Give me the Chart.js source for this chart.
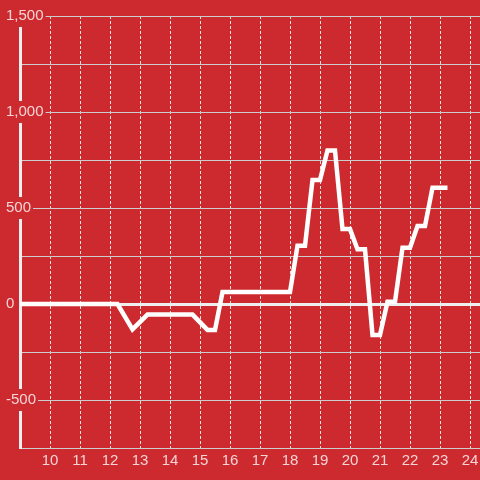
<!DOCTYPE html>
<html>
<head>
<meta charset="utf-8">
<script src="https://cdn.jsdelivr.net/npm/chart.js@4/dist/chart.umd.min.js"></script>
<style>
body{margin:0;background:#cc2a2f}
#wrap{width:480px;height:480px}
</style>
</head>
<body>
<div id="wrap"><canvas id="chart" width="480" height="480"></canvas></div>
<script>
let hours=[9,12.25,12.75,13.25,14.75,15.25,15.5,15.75,18,18.25,18.5,18.75,19,19.25,19.5,19.75,20,20.25,20.5,20.75,21,21.25,21.5,21.75,22,22.25,22.5,22.75,23.25];
let values=[0,0,-132,-55,-55,-135,-135,62,62,304,304,646,646,800,800,390,390,285,285,-161,-161,12,12,293,293,406,406,606,606];
let hourTicks=[10,11,12,13,14,15,16,17,18,19,20,21,22,23,24];

let bg="#cc2a2f";
let txt="rgba(255,255,255,0.8)";
let font={family:"'Liberation Sans', Arial, sans-serif",size:15};

let chart=new Chart(document.getElementById("chart").getContext("2d"),{
type:'line',
data:{datasets:[{
data:hours.map((h,i)=>({x:h,y:values[i]})),
borderColor:"#ffffff",
borderWidth:4.5,
pointRadius:0,
tension:0,
fill:false
}]},
options:{
responsive:false,
devicePixelRatio:1,
animation:false,
layout:{padding:{top:16,left:0,right:0,bottom:0}},
plugins:{legend:{display:false},tooltip:{enabled:false}},
scales:{
x:{
type:'linear',
min:9,
max:24+1/3,
afterBuildTicks:s=>{s.ticks=hourTicks.map(v=>({value:v}));},
afterFit:s=>{s.height=32;s.paddingLeft=0;s.paddingRight=0;},
grid:{color:"rgba(255,255,255,0.85)",lineWidth:1,drawTicks:false},
border:{display:true,color:"#cccccc",width:1,dash:[3,2]},
ticks:{color:txt,font:font,padding:4,maxRotation:0,autoSkip:false}
},
y:{
min:-750,
max:1500,
afterFit:s=>{s.width=20;s.paddingTop=0;s.paddingBottom=0;},
grid:{
color:c=>c.tick&&c.tick.value===0?"#eeeeee":"#cccccc",
lineWidth:c=>c.tick&&c.tick.value===0?3:1,
drawTicks:false
},
border:{display:true,color:"#eeeeee",width:3},
ticks:{
stepSize:250,
color:txt,
font:font,
mirror:true,
padding:-14,
crossAlign:'near',
showLabelBackdrop:true,
backdropColor:bg,
backdropPadding:2,
callback:v=>v%500===0?v.toLocaleString('en-US'):''
}
}
}
}
});
</script>
</body>
</html>
